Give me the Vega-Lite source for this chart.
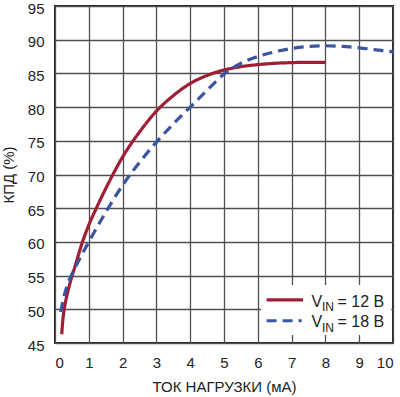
{
  "$schema": "https://vega.github.io/schema/vega-lite/v6.json",
  "width": 338,
  "height": 337,
  "autosize": {"type": "none"},
  "padding": {"left": 55, "top": 6, "right": 7, "bottom": 54},
  "background": "white",
  "config": {
    "view": {"stroke": "#222222", "strokeWidth": 2},
    "font": "Liberation Sans",
    "axis": {
      "domain": false,
      "ticks": false,
      "grid": true,
      "gridColor": "#505050",
      "gridWidth": 1.3,
      "labelFont": "Liberation Sans",
      "labelFontSize": 15,
      "labelColor": "#222222",
      "labelOverlap": false,
      "labelBound": false,
      "titleFont": "Liberation Sans",
      "titleFontSize": 15,
      "titleFontWeight": "normal",
      "titleColor": "#222222"
    }
  },
  "datasets": {
    "curves": [
      {"series": "12", "x": 0.2, "y": 46.3},
      {"series": "12", "x": 0.23, "y": 48.3},
      {"series": "12", "x": 0.28, "y": 50.2},
      {"series": "12", "x": 0.35, "y": 52.0},
      {"series": "12", "x": 0.45, "y": 54.0},
      {"series": "12", "x": 0.6, "y": 56.5},
      {"series": "12", "x": 0.8, "y": 59.8},
      {"series": "12", "x": 1.0, "y": 62.5},
      {"series": "12", "x": 1.25, "y": 65.3},
      {"series": "12", "x": 1.5, "y": 67.9},
      {"series": "12", "x": 2.0, "y": 72.6},
      {"series": "12", "x": 2.5, "y": 76.3},
      {"series": "12", "x": 3.0, "y": 79.4},
      {"series": "12", "x": 3.5, "y": 81.7},
      {"series": "12", "x": 4.0, "y": 83.5},
      {"series": "12", "x": 4.5, "y": 84.7},
      {"series": "12", "x": 5.0, "y": 85.5},
      {"series": "12", "x": 5.5, "y": 86.0},
      {"series": "12", "x": 6.0, "y": 86.3},
      {"series": "12", "x": 6.5, "y": 86.5},
      {"series": "12", "x": 7.0, "y": 86.6},
      {"series": "12", "x": 7.5, "y": 86.65},
      {"series": "12", "x": 8.0, "y": 86.65},
      {"series": "18", "x": 0.17, "y": 49.6},
      {"series": "18", "x": 0.25, "y": 51.6},
      {"series": "18", "x": 0.35, "y": 53.4},
      {"series": "18", "x": 0.5, "y": 55.2},
      {"series": "18", "x": 0.7, "y": 57.2},
      {"series": "18", "x": 1.0, "y": 60.0},
      {"series": "18", "x": 1.5, "y": 64.4},
      {"series": "18", "x": 2.0, "y": 68.4},
      {"series": "18", "x": 2.5, "y": 71.8},
      {"series": "18", "x": 3.0, "y": 74.8},
      {"series": "18", "x": 3.5, "y": 77.5},
      {"series": "18", "x": 4.0, "y": 80.0},
      {"series": "18", "x": 4.5, "y": 82.5},
      {"series": "18", "x": 5.0, "y": 84.9},
      {"series": "18", "x": 5.5, "y": 86.5},
      {"series": "18", "x": 6.0, "y": 87.5},
      {"series": "18", "x": 6.5, "y": 88.2},
      {"series": "18", "x": 7.0, "y": 88.7},
      {"series": "18", "x": 7.5, "y": 89.0},
      {"series": "18", "x": 8.0, "y": 89.1},
      {"series": "18", "x": 8.5, "y": 89.0},
      {"series": "18", "x": 9.0, "y": 88.8},
      {"series": "18", "x": 9.5, "y": 88.5},
      {"series": "18", "x": 10.0, "y": 88.2}
    ],
    "legendBox": [{"x": 6.1, "x2": 9.95, "y": 46.2, "y2": 53.6}],
    "legendLines": [
      {"series": "12", "x": 6.26, "y": 51.4},
      {"series": "12", "x": 7.34, "y": 51.4},
      {"series": "18", "x": 6.26, "y": 48.3},
      {"series": "18", "x": 7.3, "y": 48.3}
    ],
    "legendMain": [
      {"x": 7.59, "y": 50.4, "t": "V"},
      {"x": 8.36, "y": 50.4, "t": "= 12 В"},
      {"x": 7.59, "y": 47.4, "t": "V"},
      {"x": 8.36, "y": 47.4, "t": "= 18 В"}
    ],
    "legendSub": [
      {"x": 7.9, "y": 49.7, "t": "IN"},
      {"x": 7.9, "y": 46.7, "t": "IN"}
    ]
  },
  "encoding": {
    "x": {
      "field": "x", "type": "quantitative",
      "scale": {"domain": [0, 10], "nice": false},
      "axis": {"values": [0,1,2,3,4,5,6,7,8,9,10], "labelPadding": 12, "title": "ТОК НАГРУЗКИ (мА)", "titlePadding": 9}
    },
    "y": {
      "field": "y", "type": "quantitative",
      "scale": {"domain": [45, 95], "nice": false, "zero": false},
      "axis": {"values": [45,50,55,60,65,70,75,80,85,90,95], "labelPadding": 11, "labelOffset": 2, "title": "КПД (%)", "titlePadding": 11}
    }
  },
  "layer": [
    {
      "data": {"name": "curves"},
      "mark": {"type": "line", "strokeWidth": 3.2, "interpolate": "monotone"},
      "encoding": {
        "color": {"field": "series", "type": "nominal", "scale": {"domain": ["12", "18"], "range": ["#9e1f35", "#3a55a4"]}, "legend": null},
        "strokeDash": {"field": "series", "type": "nominal", "scale": {"domain": ["12", "18"], "range": [[1, 0], [10, 6]]}, "legend": null}
      }
    },
    {
      "data": {"name": "legendBox"},
      "mark": {"type": "rect", "fill": "white"},
      "encoding": {
        "x2": {"field": "x2"},
        "y2": {"field": "y2"}
      }
    },
    {
      "data": {"name": "legendLines"},
      "mark": {"type": "line", "strokeWidth": 3.2},
      "encoding": {
        "detail": {"field": "series"},
        "color": {"field": "series", "type": "nominal", "legend": null},
        "strokeDash": {"field": "series", "type": "nominal", "legend": null}
      }
    },
    {
      "data": {"name": "legendMain"},
      "mark": {"type": "text", "align": "left", "baseline": "alphabetic", "fontSize": 16, "color": "#222222", "font": "Liberation Sans"},
      "encoding": {
        "text": {"field": "t"}
      }
    },
    {
      "data": {"name": "legendSub"},
      "mark": {"type": "text", "align": "left", "baseline": "alphabetic", "fontSize": 12, "color": "#222222", "font": "Liberation Sans"},
      "encoding": {
        "text": {"field": "t"}
      }
    }
  ]
}
